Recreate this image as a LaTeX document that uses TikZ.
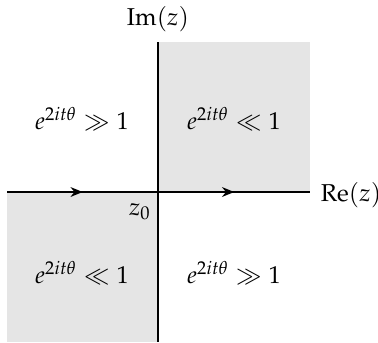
\documentclass[tikz,border=0pt]{standalone}
\usepackage{mathpazo}
\usetikzlibrary{arrows.meta,decorations.markings}
\begin{document}
\begin{tikzpicture}[x=0.41pt,y=-0.41pt,
  region/.style={fill=gray!20,draw=none},
  axis/.style={line width=0.8pt},
  lbl/.style={inner sep=1pt,font=\normalsize}]
\useasboundingbox (0,0) rectangle (378,342);
\coordinate (O) at (158,192);
\coordinate (L) at (7,192);
\coordinate (R) at (310,192);
\coordinate (T) at (158,42);
\coordinate (B) at (158,342);
\fill[region] (O) rectangle (310,42);
\fill[region] (O) rectangle (7,342);
\draw[axis,postaction={decorate},decoration={markings,
  mark=at position 0.25 with {\arrow{Stealth[length=5pt,width=4pt]}},
  mark=at position 0.75 with {\arrow{Stealth[length=5pt,width=4pt]}}}] (L) -- (R);
\draw[axis] (T) -- (B);
\node[lbl,anchor=west] (re) at (318,195) {$\mathrm{Re}(z)$};
\node[lbl] (im) at (158,19) {$\mathrm{Im}(z)$};
\node[lbl] (z0) at (140,212) {$z_0$};
\node[lbl] (q2) at (82,119) {$e^{2it\theta} \gg 1$};
\node[lbl] (q1) at (234,119) {$e^{2it\theta} \ll 1$};
\node[lbl] (q3) at (82,273) {$e^{2it\theta} \ll 1$};
\node[lbl] (q4) at (234,273) {$e^{2it\theta} \gg 1$};
\end{tikzpicture}
\end{document}
